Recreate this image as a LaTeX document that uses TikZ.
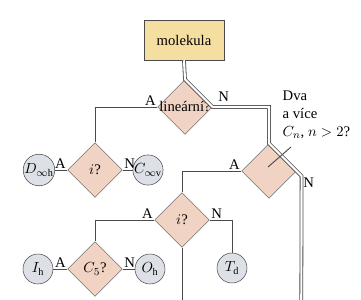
\documentclass[tikz,border=0pt]{standalone}
\usepackage{amsmath}
\usepackage{fontspec}
\setmainfont{Liberation Serif}
\usetikzlibrary{shapes.geometric}
\definecolor{boxyellow}{HTML}{F5DFA0}
\definecolor{decpink}{HTML}{F1D3C3}
\definecolor{grpgray}{HTML}{DDE1E7}
\definecolor{ink}{HTML}{4A4A4A}
\tikzset{
  box/.style={draw=ink,fill=boxyellow,minimum width=60pt,minimum height=30pt,inner sep=0pt},
  dec/.style={draw=ink!80,fill=decpink,diamond,inner sep=0pt,
    minimum width=41pt,minimum height=41pt},
  grp/.style={draw=ink,fill=grpgray,circle,inner sep=0pt,minimum size=22.5pt},
  link/.style={draw=ink,line width=0.7pt},
  main/.style={draw=ink,line width=0.6pt,double=white,double distance=1.6pt},
  yn/.style={inner sep=1pt}
}

\begin{document}
\begin{tikzpicture}[x=0.75pt,y=-0.75pt,font=\fontsize{11}{13.5}\selectfont]
  \useasboundingbox (0,0) rectangle (361,300);
  \node[box] (mol) at (184,40) {molekula};
  \node[dec,label=center:{lineární?}] (lin) at (185,107) {};

  % linear molecules
  \node[dec,label=center:{$i$?}] (i1) at (95,170) {};
  \node[grp] (dinf) at (39,170) {$D_{\infty\mathrm{h}}$};
  \node[grp] (cinf) at (148,170) {$C_{\infty\mathrm{v}}$};

  % two or more higher axes
  \node[dec] (dva) at (269,171) {};
  \node[align=left,anchor=north west] (dvaq) at (278,86) {Dva\\a více\\$C_n$, $n>2$?};
  \coordinate (lead1) at (291,147);
  \coordinate (lead2) at (268,167);
  \coordinate (dvaend) at (301.3,300);

  \node[dec,label=center:{$i$?}] (i2) at (182,220) {};
  \coordinate (i2end) at (182,300);
  \node[grp] (td) at (232,268) {$T_{\mathrm{d}}$};
  \node[dec,label=center:{$C_5$?}] (c5) at (95,269) {};
  \node[grp] (ih) at (38,269) {$I_{\mathrm{h}}$};
  \node[grp] (oh) at (150,269) {$O_{\mathrm{h}}$};

  \draw[main] (mol.south) -- (lin.north) -- (lin.east) node[yn,above right=3pt]{N}
    -| (dva.north) -- (dva.east) -- ++(5,5) node[yn,below right]{N} -- (dvaend);
  \draw[link] (lin.west) node[yn,above left]{A} -| (i1.north);
  \draw[link] (i1.west) node[yn,above left]{A} -- (dinf);
  \draw[link] (i1.east) node[yn,above right]{N} -- (cinf);
  \draw[link] (lead1) -- (lead2);
  \draw[link] (dva.west) node[yn,above left]{A} -| (i2.north);
  \draw[link] (i2.west) node[yn,above left]{A} -| (c5.north);
  \draw[link] (i2.east) node[yn,above right]{N} -| (td.north);
  \draw[link] (i2.south) -- (i2end);
  \draw[link] (c5.west) node[yn,above left]{A} -- (ih);
  \draw[link] (c5.east) node[yn,above right]{N} -- (oh);
\end{tikzpicture}
\end{document}
